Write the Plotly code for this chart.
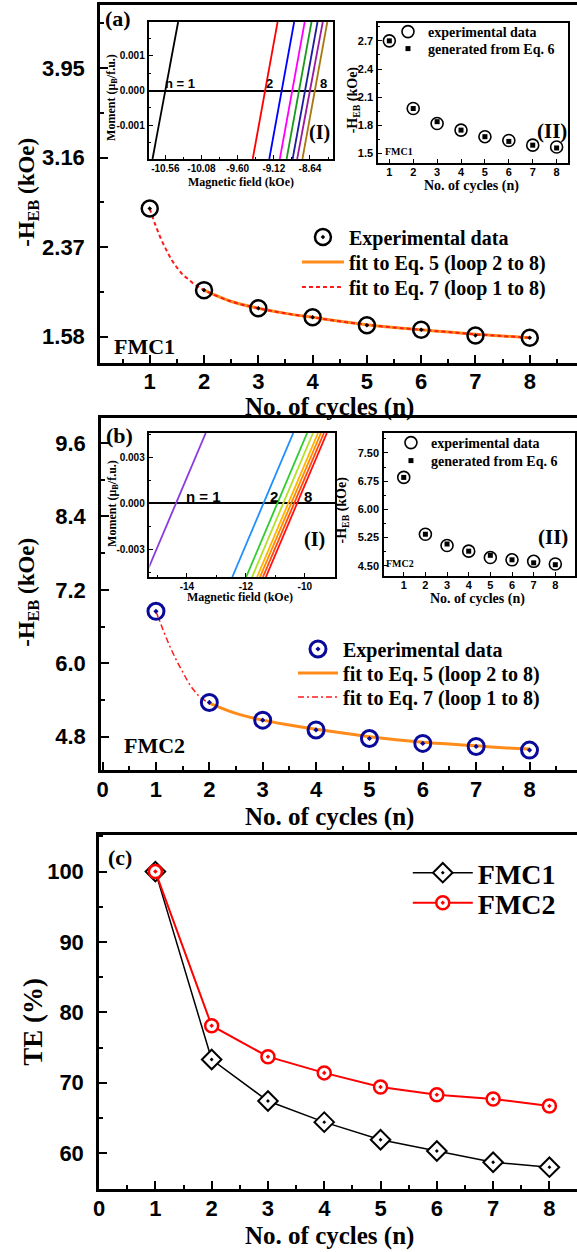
import plotly.graph_objects as go

W, H = 577, 1252

# ---------------- data ----------------
cycles = [1, 2, 3, 4, 5, 6, 7, 8]

# panel (a) : FMC1
heb_fmc1 = [2.71, 1.99, 1.83, 1.75, 1.68, 1.64, 1.59, 1.57]
fit7_fmc1_n = [1, 1.1, 1.2, 1.3, 1.4, 1.5, 1.6, 1.7, 1.8, 1.9, 2, 2.5, 3, 3.5, 4, 4.5, 5, 5.5, 6, 6.5, 7, 7.5, 8]
fit7_fmc1 = [2.71, 2.57, 2.45, 2.35, 2.26, 2.19, 2.13, 2.09, 2.05, 2.02, 1.99, 1.89, 1.83, 1.785, 1.75,
             1.715, 1.685, 1.66, 1.64, 1.62, 1.60, 1.585, 1.57]
fit5_fmc1_n = [2, 2.5, 3, 3.5, 4, 4.5, 5, 5.5, 6, 6.5, 7, 7.5, 8]
fit5_fmc1 = [1.99, 1.89, 1.83, 1.785, 1.75, 1.715, 1.685, 1.66, 1.64, 1.62, 1.60, 1.585, 1.57]

# inset (a)(II)
ins_exp_fmc1 = [2.70, 1.98, 1.82, 1.75, 1.68, 1.64, 1.59, 1.57]
ins_eq6_fmc1 = [2.70, 1.98, 1.84, 1.75, 1.68, 1.63, 1.59, 1.56]

# inset (a)(I) : loop branches (field at the bottom / top of the window)
loop_moment_fmc1 = [-0.00196, 0.00196]
loop_h_lo_fmc1 = [-10.73, -9.40, -9.18, -9.04, -8.95, -8.87, -8.81, -8.74]
loop_h_hi_fmc1 = [-10.39, -9.07, -8.85, -8.71, -8.62, -8.54, -8.47, -8.41]

# panel (b) : FMC2
heb_fmc2 = [6.85, 5.36, 5.07, 4.91, 4.77, 4.69, 4.64, 4.58]
fit7_fmc2_n = [1, 1.1, 1.2, 1.3, 1.4, 1.5, 1.6, 1.7, 1.8, 1.9, 2, 2.5, 3, 3.5, 4, 4.5, 5, 5.5, 6, 6.5, 7, 7.5, 8]
fit7_fmc2 = [6.85, 6.62, 6.40, 6.20, 6.02, 5.86, 5.70, 5.57, 5.47, 5.40, 5.35, 5.18, 5.07, 4.99, 4.92,
             4.86, 4.80, 4.75, 4.71, 4.68, 4.65, 4.62, 4.60]
fit5_fmc2_n = [2, 2.5, 3, 3.5, 4, 4.5, 5, 5.5, 6, 6.5, 7, 7.5, 8]
fit5_fmc2 = [5.35, 5.18, 5.07, 4.99, 4.92, 4.86, 4.80, 4.75, 4.71, 4.68, 4.65, 4.62, 4.60]

# inset (b)(II)
ins_exp_fmc2 = [6.85, 5.34, 5.04, 4.89, 4.72, 4.66, 4.62, 4.55]
ins_eq6_fmc2 = [6.85, 5.34, 5.08, 4.89, 4.78, 4.66, 4.58, 4.53]

# inset (b)(I)
loop_moment_fmc2 = [-0.0048, 0.00457]
loop_h_lo_fmc2 = [-15.43, -12.46, -11.99, -11.79, -11.62, -11.52, -11.42, -11.32]
loop_h_hi_fmc2 = [-13.36, -10.39, -9.92, -9.72, -9.55, -9.45, -9.35, -9.25]

# panel (c) : training effect
te_fmc1 = [100, 73.3, 67.4, 64.4, 61.9, 60.3, 58.7, 58.0]
te_fmc2 = [100, 78.1, 73.7, 71.4, 69.4, 68.3, 67.7, 66.7]

# tick labels
a_x_ticks = [1, 2, 3, 4, 5, 6, 7, 8]
bc_x_ticks = [0, 1, 2, 3, 4, 5, 6, 7, 8]
a_y_ticks = [1.58, 2.37, 3.16, 3.95]
b_y_ticks = [4.8, 6.0, 7.2, 8.4, 9.6]
c_y_ticks = [60, 70, 80, 90, 100]
ia1_x_ticks = [-10.56, -10.08, -9.60, -9.12, -8.64]
ia1_y_ticks = [-0.001, 0.0, 0.001]
ia1_y_text = ["-0.001", "0.000", "0.001"]
ia2_y_ticks = [1.5, 1.8, 2.1, 2.4, 2.7]
ib1_x_ticks = [-14, -12, -10]
ib1_y_ticks = [-0.003, 0.0, 0.003]
ib1_y_text = ["-0.003", "0.000", "0.003"]
ib2_y_ticks = [4.50, 5.25, 6.00, 6.75, 7.50]

loop_colors_fmc1 = ["#000000", "#ff0000", "#0000ff", "#ff00ff", "#1a9a1a", "#1c1c9c", "#9a1aa0", "#a8780e"]
loop_colors_fmc2 = ["#8a3ae0", "#1e8fff", "#2ecc2e", "#b5e02a", "#ffb400", "#ff8a00", "#ff4a10", "#ff1010"]

# ---------------- helpers ----------------
def dx(a, b):
    return [a / W, b / W]

def dy(top, bottom):
    return [1 - bottom / H, 1 - top / H]

SERIF = "Liberation Serif"
SANS = "Liberation Sans"
main_tick_font = dict(family=SANS, size=22, color="black", weight="bold")
inset_tick_font = dict(family=SANS, size=10, color="black", weight="bold")


def main_axis(domain, rng, anchor, tickvals, ticktext, minor_tick0, minor_dtick, mirror, standoff):
    return dict(domain=domain, range=rng, anchor=anchor, showline=True, linewidth=2.5,
                linecolor="black", mirror=mirror, ticks="inside", ticklen=8, tickwidth=2,
                tickcolor="black", tickmode="array", tickvals=tickvals, ticktext=ticktext,
                tickfont=main_tick_font, showgrid=False, zeroline=False, ticklabelstandoff=standoff,
                minor=dict(ticks="inside", ticklen=4, tickwidth=2, tickcolor="black",
                           tick0=minor_tick0, dtick=minor_dtick, showgrid=False))


def inset_axis(domain, rng, anchor, tickvals, ticktext, minor_tick0=None, minor_dtick=None, **kw):
    d = dict(domain=domain, range=rng, anchor=anchor, showline=True, linewidth=1.5,
             linecolor="black", mirror=True, ticks="inside", ticklen=4, tickwidth=1.2,
             tickcolor="black", tickmode="array", tickvals=tickvals, ticktext=ticktext,
             tickfont=inset_tick_font, showgrid=False, zeroline=False, ticklabelstandoff=1)
    if minor_dtick is not None:
        d["minor"] = dict(ticks="inside", ticklen=2, tickwidth=1, tickcolor="black",
                          tick0=minor_tick0, dtick=minor_dtick, showgrid=False)
    d.update(kw)
    return d


def legend_cfg(xpx, ypx, size, itemwidth=30):
    return dict(x=xpx / W, y=1 - ypx / H, xanchor="left", yanchor="middle",
                bgcolor="rgba(0,0,0,0)", borderwidth=0, itemwidth=itemwidth,
                font=dict(family=SERIF, size=size, color="black", weight="bold"),
                itemclick=False, itemdoubleclick=False)


def txt(text, xpx, ypx, size, family=SERIF, angle=0, xanchor="center"):
    return dict(text=text, x=xpx / W, y=1 - ypx / H, xref="paper", yref="paper",
                showarrow=False, textangle=angle, xanchor=xanchor, yanchor="middle",
                font=dict(family=family, size=size, color="black", weight="bold"))


fig = go.Figure()

# ---------------- panel (a) main ----------------
fig.add_trace(go.Scatter(x=fit5_fmc1_n, y=fit5_fmc1, mode="lines", name="fit to Eq. 5 (loop 2 to 8)",
                         line=dict(color="#ff8c1a", width=3, shape="spline"),
                         xaxis="x", yaxis="y", legend="legend2"))
fig.add_trace(go.Scatter(x=fit7_fmc1_n, y=fit7_fmc1, mode="lines", name="fit to Eq. 7 (loop 1 to 8)",
                         line=dict(color="#ff1a1a", width=2, dash="4px,3px", shape="spline"),
                         xaxis="x", yaxis="y", legend="legend3"))
fig.add_trace(go.Scatter(x=cycles, y=heb_fmc1, mode="markers", name="Experimental data",
                         marker=dict(symbol="circle-open-dot", size=16, color="black",
                                     line=dict(width=2.5, color="black")),
                         xaxis="x", yaxis="y", legend="legend"))

# inset (a)(I)
for i in range(len(cycles)):
    fig.add_trace(go.Scatter(x=[loop_h_lo_fmc1[i], loop_h_hi_fmc1[i]], y=loop_moment_fmc1,
                             mode="lines", line=dict(color=loop_colors_fmc1[i], width=1.8),
                             showlegend=False, xaxis="x2", yaxis="y2"))

# inset (a)(II)
fig.add_trace(go.Scatter(x=cycles, y=ins_exp_fmc1, mode="markers", name="experimental data",
                         marker=dict(symbol="circle-open", size=12, color="black",
                                     line=dict(width=1.6, color="black")),
                         xaxis="x3", yaxis="y3", legend="legend4"))
fig.add_trace(go.Scatter(x=cycles, y=ins_eq6_fmc1, mode="markers", name="generated from Eq. 6",
                         marker=dict(symbol="square", size=5, color="black"),
                         xaxis="x3", yaxis="y3", legend="legend5"))

# ---------------- panel (b) main ----------------
fig.add_trace(go.Scatter(x=fit7_fmc2_n, y=fit7_fmc2, mode="lines", name="fit to Eq. 7 (loop 1 to 8)",
                         line=dict(color="#ff1a1a", width=1.5, dash="6px,3px,2px,3px", shape="spline"),
                         xaxis="x4", yaxis="y4", legend="legend8"))
fig.add_trace(go.Scatter(x=fit5_fmc2_n, y=fit5_fmc2, mode="lines", name="fit to Eq. 5 (loop 2 to 8)",
                         line=dict(color="#ff8c1a", width=3, shape="spline"),
                         xaxis="x4", yaxis="y4", legend="legend7"))
fig.add_trace(go.Scatter(x=cycles, y=heb_fmc2, mode="markers", name="Experimental data",
                         marker=dict(symbol="circle-open-dot", size=16, color="#0a0a9a",
                                     line=dict(width=3, color="#0a0a9a")),
                         xaxis="x4", yaxis="y4", legend="legend6"))

# inset (b)(I)
for i in range(len(cycles)):
    fig.add_trace(go.Scatter(x=[loop_h_lo_fmc2[i], loop_h_hi_fmc2[i]], y=loop_moment_fmc2,
                             mode="lines", line=dict(color=loop_colors_fmc2[i], width=1.8),
                             showlegend=False, xaxis="x5", yaxis="y5"))

# inset (b)(II)
fig.add_trace(go.Scatter(x=cycles, y=ins_exp_fmc2, mode="markers", name="experimental data",
                         marker=dict(symbol="circle-open", size=12, color="black",
                                     line=dict(width=1.6, color="black")),
                         xaxis="x6", yaxis="y6", legend="legend9"))
fig.add_trace(go.Scatter(x=cycles, y=ins_eq6_fmc2, mode="markers", name="generated from Eq. 6",
                         marker=dict(symbol="square", size=5, color="black"),
                         xaxis="x6", yaxis="y6", legend="legend10"))

# ---------------- panel (c) ----------------
fig.add_trace(go.Scatter(x=cycles, y=te_fmc1, mode="lines+markers", name="FMC1",
                         line=dict(color="black", width=1.5),
                         marker=dict(symbol="diamond-dot", size=15, color="white",
                                     line=dict(width=2, color="black")),
                         xaxis="x7", yaxis="y7", legend="legend11"))
fig.add_trace(go.Scatter(x=cycles, y=te_fmc2, mode="lines+markers", name="FMC2",
                         line=dict(color="#ff0000", width=2),
                         marker=dict(symbol="circle-dot", size=13, color="white",
                                     line=dict(width=2.5, color="#ff0000")),
                         xaxis="x7", yaxis="y7", legend="legend12"))

# ---------------- axes ----------------
XS, YS = -2, 8
small_x_font = dict(family=SANS, size=11, color="black", weight="bold")
layout = dict(
    width=W, height=H, margin=dict(l=0, r=0, t=0, b=0),
    paper_bgcolor="white", plot_bgcolor="white", showlegend=True,
    xaxis=main_axis(dx(95, 577), [0.084, 8.87], "y", a_x_ticks, [str(v) for v in a_x_ticks], 0, 0.5, True, -3),
    yaxis=main_axis(dy(5, 363), [1.347, 4.506], "x", a_y_ticks, [f"{v:.2f}" for v in a_y_ticks], 1.58, 0.395, False, YS),
    xaxis4=main_axis(dx(96, 577), [-0.03, 8.89], "y4", bc_x_ticks, [str(v) for v in bc_x_ticks], 0, 0.5, True, XS),
    yaxis4=main_axis(dy(418, 770), [4.255, 10.01], "x4", b_y_ticks, [f"{v:.1f}" for v in b_y_ticks], 4.8, 0.6, False, YS),
    xaxis7=main_axis(dx(94, 577), [-0.001, 8.49], "y7", bc_x_ticks, [str(v) for v in bc_x_ticks], 0, 0.5, True, XS),
    yaxis7=main_axis(dy(835, 1189), [54.9, 105.2], "x7", c_y_ticks, [str(v) for v in c_y_ticks], 55, 5, False, YS),
    xaxis2=inset_axis(dx(145, 330), [-10.77, -8.34], "y2", ia1_x_ticks, [f"{v:.2f}" for v in ia1_x_ticks], -10.56, 0.24,
                      ticklabelstandoff=-1),
    yaxis2=inset_axis(dy(22, 159), [-0.00196, 0.00196], "x2", ia1_y_ticks, ia1_y_text, 0.0005, 0.001,
                      zeroline=True, zerolinecolor="black", zerolinewidth=1.5),
    xaxis3=inset_axis(dx(376, 568), [0.53, 8.48], "y3", cycles, [str(v) for v in cycles],
                      tickfont=small_x_font, ticklabelstandoff=-2),
    yaxis3=inset_axis(dy(23, 163), [1.40, 2.89], "x3", ia2_y_ticks, [f"{v:.1f}" for v in ia2_y_ticks], 1.65, 0.3,
                      tickfont=dict(family=SANS, size=11, color="black", weight="bold")),
    xaxis5=inset_axis(dx(145, 332), [-15.27, -8.99], "y5", ib1_x_ticks, [str(v) for v in ib1_x_ticks], -15, 2,
                      ticklabelstandoff=-1),
    yaxis5=inset_axis(dy(433, 577), [-0.0048, 0.00457], "x5", ib1_y_ticks, ib1_y_text, -0.0015, 0.003,
                      zeroline=True, zerolinecolor="black", zerolinewidth=1.5),
    xaxis6=inset_axis(dx(382, 575), [0.09, 8.91], "y6", cycles, [str(v) for v in cycles],
                      tickfont=small_x_font, ticklabelstandoff=-2),
    yaxis6=inset_axis(dy(433, 576), [4.23, 8.03], "x6", ib2_y_ticks, [f"{v:.2f}" for v in ib2_y_ticks], 4.875, 0.75,
                      tickfont=dict(family=SANS, size=11, color="black", weight="bold")),
    legend=legend_cfg(294, 237, 20, 42),
    legend2=legend_cfg(294, 262, 20, 42),
    legend3=legend_cfg(294, 287, 20, 42),
    legend4=legend_cfg(386, 32, 14, 30),
    legend5=legend_cfg(386, 49, 14, 30),
    legend6=legend_cfg(290, 649, 20, 40),
    legend7=legend_cfg(290, 673, 20, 40),
    legend8=legend_cfg(290, 697, 20, 40),
    legend9=legend_cfg(389, 443, 14, 30),
    legend10=legend_cfg(389, 461, 14, 30),
    legend11=legend_cfg(406, 873, 28, 60),
    legend12=legend_cfg(406, 903, 28, 60),
)

annotations = [
    # panel (a)
    txt("(a)", 113, 18, 22),
    txt("FMC1", 140, 346, 22),
    txt("-H<sub>EB</sub> (kOe)", 22, 192, 23, angle=-90),
    txt("No. of cycles (n)", 327, 407, 25),
    txt("n = 1", 176, 84, 13, family=SANS),
    txt("2", 266, 84, 13, family=SANS),
    txt("8", 321, 84, 13, family=SANS),
    txt("(I)", 317, 132, 20),
    txt("Magnetic field (kOe)", 237, 182, 12),
    txt("Moment (\u03bc<sub>B</sub>/f.u.)", 107, 97, 12, angle=-90),
    txt("-H<sub>EB</sub> (kOe)", 351, 100, 14, angle=-90),
    txt("No. of cycles (n)", 470, 186, 14),
    txt("FMC1", 397, 151, 10),
    txt("(II)", 552, 131, 21),
    # panel (b)
    txt("(b)", 115, 435, 22),
    txt("FMC2", 150, 745, 22),
    txt("-H<sub>EB</sub> (kOe)", 22, 592, 23, angle=-90),
    txt("No. of cycles (n)", 327, 817, 25),
    txt("n = 1", 200, 496, 15, family=SANS),
    txt("2", 271, 496, 15, family=SANS),
    txt("8", 305, 496, 15, family=SANS),
    txt("(I)", 312, 540, 20),
    txt("Magnetic field (kOe)", 236, 597, 12),
    txt("Moment (\u03bc<sub>B</sub>/f.u.)", 108, 503, 12, angle=-90),
    txt("-H<sub>EB</sub> (kOe)", 340, 510, 14, angle=-90),
    txt("No. of cycles (n)", 476, 599, 14),
    txt("FMC2", 398, 563, 10),
    txt("(II)", 553, 537, 21),
    # panel (c)
    txt("(c)", 115, 857, 22),
    txt("TE (%)", 27, 1022, 27, angle=-90),
    txt("No. of cycles (n)", 327, 1236, 25),
]
layout["annotations"] = annotations
fig.update_layout(**layout)

fig.write_html("out.html", config={"displayModeBar": False},
               post_script="document.body.style.margin='0px';document.body.style.overflow='hidden';")
